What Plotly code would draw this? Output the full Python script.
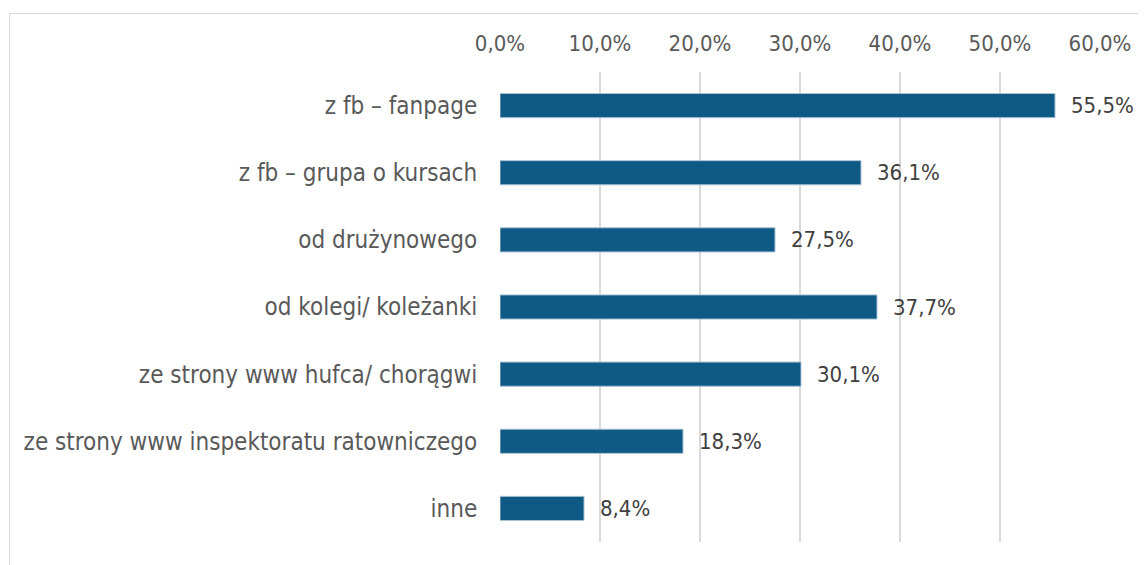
import plotly.graph_objects as go

categories = [
    "z fb – fanpage",
    "z fb – grupa o kursach",
    "od drużynowego",
    "od kolegi/ koleżanki",
    "ze strony www hufca/ chorągwi",
    "ze strony www inspektoratu ratowniczego",
    "inne",
]
values = [55.5, 36.1, 27.5, 37.7, 30.1, 18.3, 8.4]

FONT = "DejaVu Sans Condensed"
LABEL_SIZE = 24
NUM_SIZE = 22

fig = go.Figure()
fig.add_trace(go.Bar(
    x=values,
    y=categories,
    orientation="h",
    width=0.36,
    marker=dict(color="#0f5a85", line=dict(color="#a9c3d6", width=1)),
    hoverinfo="skip",
))

for cat, val in zip(categories, values):
    fig.add_annotation(
        x=val, y=cat, xref="x", yref="y",
        text=f"{val:.1f}%".replace(".", ","),
        showarrow=False, xanchor="left", yanchor="middle",
        xshift=14,
        font=dict(family=FONT, size=NUM_SIZE, color="#404040"),
    )

# page body has an 8px offset; plot area spans px 500..1100 x 72..542 on screen
L, T = 492, 64
fig.update_layout(
    width=1146,
    height=565,
    separators=",.",
    paper_bgcolor="white",
    plot_bgcolor="white",
    showlegend=False,
    margin=dict(l=L, r=1146 - (L + 600), t=T, b=565 - (T + 470)),
    font=dict(family=FONT, size=LABEL_SIZE, color="#595959"),
    xaxis=dict(
        side="top",
        range=[0, 60],
        dtick=10,
        tickformat=".1f",
        ticksuffix="%",
        showgrid=True,
        gridcolor="#d9d9d9",
        gridwidth=1.5,
        zeroline=False,
        showline=False,
        ticks="outside",
        ticklen=11,
        tickcolor="rgba(0,0,0,0)",
        tickfont=dict(family=FONT, size=NUM_SIZE, color="#595959"),
        fixedrange=True,
    ),
    yaxis=dict(
        autorange="reversed",
        showgrid=False,
        zeroline=False,
        showline=False,
        ticks="outside",
        ticklen=17,
        tickcolor="rgba(0,0,0,0)",
        tickfont=dict(family=FONT, size=LABEL_SIZE, color="#595959"),
        fixedrange=True,
    ),
    shapes=[dict(
        type="rect", xref="paper", yref="paper",
        x0=(1.5 - L) / 600, x1=(1160 - L) / 600,
        y0=(T + 470 - 600) / 470, y1=(T + 470 - 5.5) / 470,
        line=dict(color="#d9d9d9", width=1),
        fillcolor="rgba(0,0,0,0)",
        layer="below",
    )],
)

fig.write_html("out.html")
